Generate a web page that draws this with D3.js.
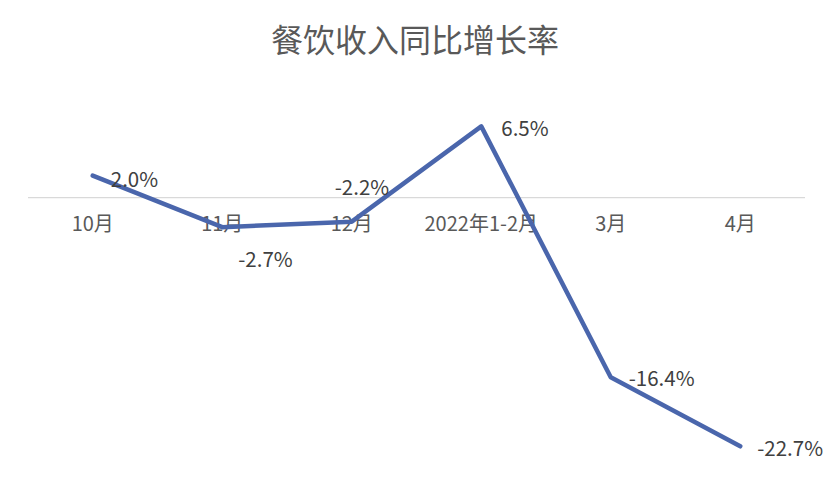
<!DOCTYPE html>
<html><head><meta charset="utf-8">
<script src="https://cdn.jsdelivr.net/npm/d3@7"></script>
<style>body{margin:0;background:#fff}svg{display:block}</style>
</head><body>
<svg id="c" width="831" height="499"></svg>
<script>
const title = "餐饮收入同比增长率";
const categories = ["10月","11月","12月","2022年1-2月","3月","4月"];
const values = [2.0, -2.7, -2.2, 6.5, -16.4, -22.7];
const labels = ["2.0%","-2.7%","-2.2%","6.5%","-16.4%","-22.7%"];

const W = 831, H = 499;
const svg = d3.select("#c");
const font = "'Noto Sans CJK SC','Noto Sans',sans-serif";
const grey = "#595959";

const x = d3.scaleBand().domain(categories).range([28, 805]);
const y = d3.scaleLinear().domain([-25, 10]).range([471.5, 88]);

svg.append("text").attr("x", 415).attr("y", 38).attr("text-anchor","middle")
  .attr("dominant-baseline","central").attr("font-family", font).attr("font-size", 32)
  .attr("fill", grey).text(title);

// zero axis line
svg.append("line").attr("x1", 28).attr("x2", 805).attr("y1", y(0)).attr("y2", y(0))
  .attr("stroke", "#d9d9d9").attr("stroke-width", 1.3);

// category labels
const axis = d3.axisBottom(x).tickSize(0).tickPadding(0);
const g = svg.append("g").attr("transform", `translate(0,${y(0)+25})`).call(axis);
g.select(".domain").remove();
g.selectAll("text").attr("font-family", font).attr("font-size", 20).attr("fill", grey)
  .attr("dy", null).attr("dominant-baseline","central");

const line = d3.line().x((d,i)=>x(categories[i])+x.bandwidth()/2).y(d=>y(d));
svg.append("path").datum(values).attr("d", line).attr("fill","none")
  .attr("stroke","#4A66AC").attr("stroke-width",4.5).attr("stroke-linejoin","round").attr("stroke-linecap","round");

// label offsets relative to points (left edge, center)
const off = [[18,2],[16,31],[-17,-36],[20,1],[18,0],[17,1]];
svg.append("g").selectAll("text").data(values).join("text")
  .attr("x",(d,i)=>x(categories[i])+x.bandwidth()/2+off[i][0])
  .attr("y",(d,i)=>y(d)+off[i][1])
  .attr("dominant-baseline","central")
  .attr("font-family", font).attr("font-size", 20.5).attr("fill", "#404040")
  .text((d,i)=>labels[i]);
</script>
</body></html>
